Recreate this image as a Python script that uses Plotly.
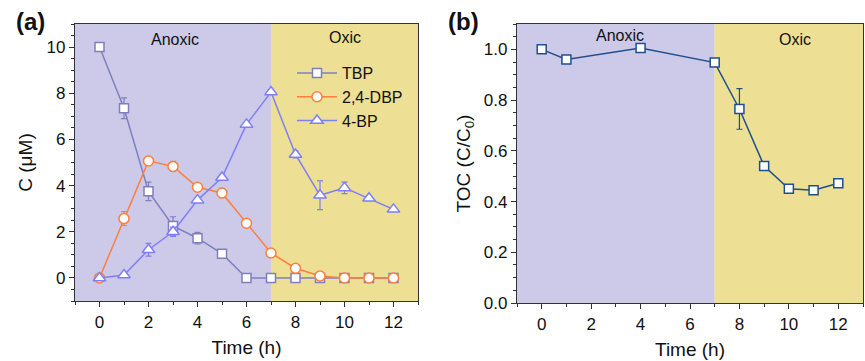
import plotly.graph_objects as go

# ---- data ----
time_a = [0, 1, 2, 3, 4, 5, 6, 7, 8, 9, 10, 11, 12]
tbp = [10.0, 7.35, 3.75, 2.25, 1.72, 1.05, 0, 0, 0, 0, 0, 0, 0]
tbp_err = [0, 0.45, 0.4, 0.4, 0.25, 0.1, 0, 0, 0, 0, 0, 0, 0]
dbp = [0, 2.57, 5.07, 4.83, 3.93, 3.68, 2.37, 1.08, 0.42, 0.08, 0, 0, 0]
dbp_err = [0, 0.3, 0, 0.22, 0, 0.2, 0.1, 0, 0, 0, 0, 0, 0]
bp = [0, 0.13, 1.22, 2.0, 3.37, 4.35, 6.65, 8.05, 5.35, 3.58, 3.9, 3.45, 2.97]
bp_err = [0, 0, 0.28, 0.2, 0.1, 0.1, 0.05, 0.1, 0.15, 0.62, 0.25, 0.1, 0.05]

time_b = [0, 1, 4, 7, 8, 9, 10, 11, 12]
toc = [1.0, 0.96, 1.005, 0.948, 0.765, 0.54, 0.45, 0.445, 0.472]
toc_err = [0, 0, 0.01, 0.01, 0.08, 0.01, 0.01, 0.01, 0.015]

phase_names = ["Anoxic", "Oxic"]
phase_bounds = [-1, 7, 13]

C_TBP = "#7f7fbf"
C_DBP = "#fb7f3f"
C_BP = "#7f7ff7"
C_TOC = "#1f4f8f"
C_ANOX = "#cccae8"
C_OXIC = "#eddf93"

FONT = "Liberation Sans, Arial, sans-serif"

fig = go.Figure()

def add_series(x, y, err, color, symbol, name, xa, ya, size, show=True):
    fig.add_trace(go.Scatter(
        x=x, y=y, name=name, mode="lines+markers", xaxis=xa, yaxis=ya,
        line=dict(color=color, width=1.5),
        marker=dict(symbol=symbol, size=size, color="white",
                    line=dict(color=color, width=1.5)),
        error_y=dict(type="data", array=err, visible=True, color=color,
                     thickness=1.2, width=3),
        showlegend=show,
    ))

add_series(time_a, tbp, tbp_err, C_TBP, "square", "TBP", "x", "y", 9)
add_series(time_a, dbp, dbp_err, C_DBP, "circle", "2,4-DBP", "x", "y", 10)
add_series(time_a, bp, bp_err, C_BP, "triangle-up", "4-BP", "x", "y", 11)
add_series(time_b, toc, toc_err, C_TOC, "square", "TOC", "x2", "y2", 9, show=False)

# phase backgrounds
for xr, yr in [("x", "y"), ("x2", "y2")]:
    for i, col in enumerate([C_ANOX, C_OXIC]):
        fig.add_shape(type="rect", xref=xr, yref=yr + " domain",
                      x0=phase_bounds[i], x1=phase_bounds[i + 1], y0=0, y1=1,
                      fillcolor=col, line=dict(width=0), layer="below")

W, H = 865, 361
def dx(a, b):
    return [a / W, b / W]
def dy(top, bottom):
    return [(H - bottom) / H, (H - top) / H]

axis_common = dict(showline=True, linecolor="#333", linewidth=1.2, mirror=True,
                   ticks="outside", ticklen=5, tickwidth=1.2, tickcolor="#333",
                   showgrid=False, zeroline=False, automargin=False,
                   tickfont=dict(family=FONT, size=17, color="#111"),
                   minor=dict(ticks="outside", ticklen=3, tickwidth=1.2, tickcolor="#333"))

TF = dict(family=FONT, size=19, color="#111")

fig.update_layout(
    width=W, height=H, margin=dict(l=0, r=0, t=0, b=0),
    paper_bgcolor="white", plot_bgcolor="white",
    font=dict(family=FONT, color="#111"),
    xaxis=dict(domain=dx(75, 418), range=[-1, 13], tickvals=[0, 2, 4, 6, 8, 10, 12],
               title=dict(text="Time (h)", font=TF, standoff=10),
               anchor="y", **axis_common),
    yaxis=dict(domain=dy(24, 301), range=[-1, 11], tickvals=[0, 2, 4, 6, 8, 10],
               title=dict(text="C (μM)", font=TF, standoff=8),
               anchor="x", **axis_common),
    xaxis2=dict(domain=dx(517, 863), range=[-1, 13], tickvals=[0, 2, 4, 6, 8, 10, 12],
                title=dict(text="Time (h)", font=TF, standoff=10),
                anchor="y2", **axis_common),
    yaxis2=dict(domain=dy(24, 303), range=[0, 1.1], tickvals=[0, 0.2, 0.4, 0.6, 0.8, 1.0],
                tickformat=".1f",
                title=dict(text="TOC (C/C<sub>0</sub>)", font=TF, standoff=8),
                anchor="x2", **axis_common),
    legend=dict(x=292 / W, y=(H - 56) / H, xanchor="left", yanchor="top",
                bgcolor="rgba(0,0,0,0)", font=dict(family=FONT, size=16, color="#111"),
                tracegroupgap=0, itemwidth=40),
)

# annotations
ann = [
    dict(x=3.1, y=10.35, xref="x", yref="y", text=phase_names[0]),
    dict(x=10.0, y=10.4, xref="x", yref="y", text=phase_names[1]),
    dict(x=3.15, y=1.055, xref="x2", yref="y2", text=phase_names[0]),
    dict(x=10.25, y=1.037, xref="x2", yref="y2", text=phase_names[1]),
]
for a in ann:
    fig.add_annotation(showarrow=False, font=dict(family=FONT, size=16, color="#111"), **a)

fig.add_annotation(x=14 / W, y=(H - 22) / H, xref="paper", yref="paper", text="<b>(a)</b>",
                   showarrow=False, xanchor="left", yanchor="middle",
                   font=dict(family=FONT, size=24, color="#111"))
fig.add_annotation(x=446 / W, y=(H - 22) / H, xref="paper", yref="paper", text="<b>(b)</b>",
                   showarrow=False, xanchor="left", yanchor="middle",
                   font=dict(family=FONT, size=24, color="#111"))

fig.write_html("out.html", config={"displayModeBar": False},
               post_script="document.body.style.margin='0';document.body.style.overflow='hidden';")
